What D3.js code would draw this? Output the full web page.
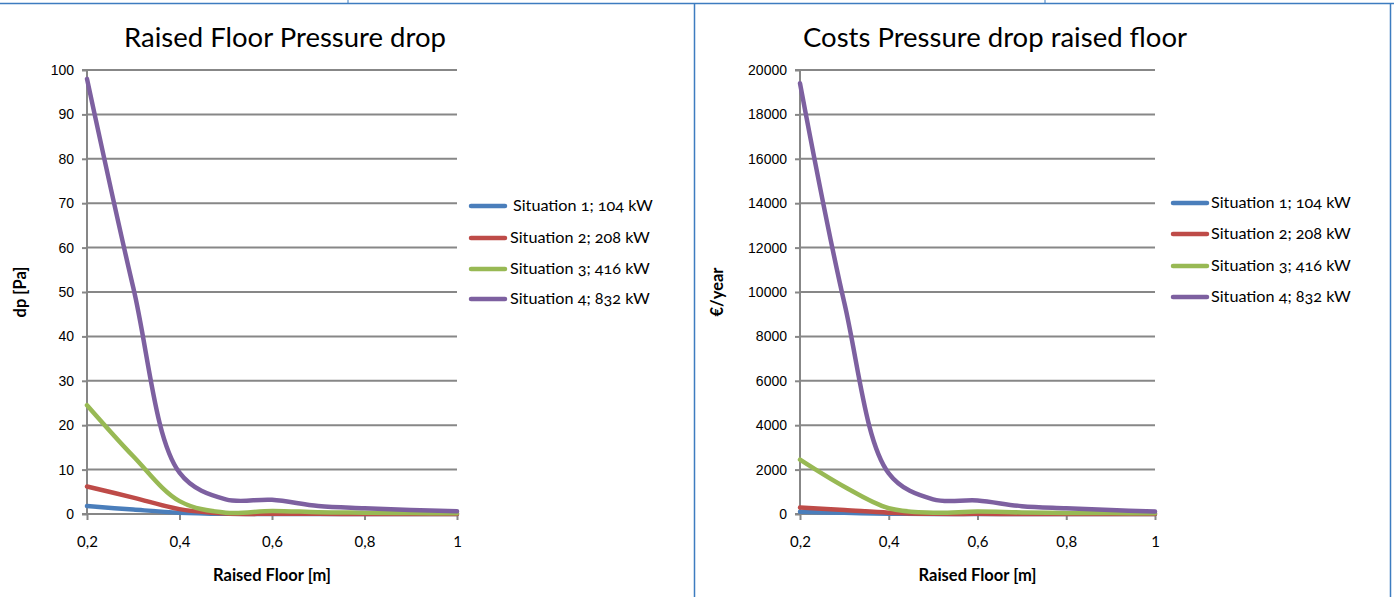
<!DOCTYPE html>
<html><head><meta charset="utf-8">
<script src="https://cdn.jsdelivr.net/npm/d3@7"></script>
<style>
html,body{margin:0;padding:0;background:#fff;}
svg{display:block;}
</style></head>
<body>
<svg id="c" width="1394" height="597"></svg>
<script>
// ---- data ----
const floorHeights = [0.2, 0.3, 0.4, 0.5, 0.6, 0.7, 0.8, 0.9, 1.0];
const seriesNames = ["Situation 1; 104 kW", "Situation 2; 208 kW", "Situation 3; 416 kW", "Situation 4; 832 kW"];
const seriesColors = ["#4a7ebb", "#be4b48", "#98b954", "#7d60a0"];

const dpSit1 = [1.8, 1.0, 0.3, 0.05, 0.02, 0.01, 0.01, 0.0, 0.0];
const dpSit2 = [6.2, 3.7, 1.1, 0.1, 0.05, 0.03, 0.02, 0.01, 0.01];
const dpSit3 = [24.5, 13.0, 2.9, 0.3, 0.7, 0.4, 0.3, 0.2, 0.15];
const dpSit4 = [98, 51, 9.3, 3.3, 3.2, 1.8, 1.3, 0.9, 0.6];

const costSit1 = [100, 55, 15, 3, 2, 1, 1, 0, 0];
const costSit2 = [290, 180, 60, 10, 6, 4, 3, 2, 2];
const costSit3 = [2450, 1230, 260, 60, 110, 70, 50, 40, 30];
const costSit4 = [19400, 9500, 1830, 660, 610, 350, 260, 180, 110];

const xTicks = [0.2, 0.4, 0.6, 0.8, 1.0];
const dpTicks = [0, 10, 20, 30, 40, 50, 60, 70, 80, 90, 100];
const costTicks = [0, 2000, 4000, 6000, 8000, 10000, 12000, 14000, 16000, 18000, 20000];

const charts = [
  {title: "Raised Floor Pressure drop", yLabel: "dp [Pa]", xLabel: "Raised Floor [m]",
   series: [dpSit1, dpSit2, dpSit3, dpSit4], yMax: 100, yTicks: dpTicks,
   left: 87, right: 457, titleX: 285, yLabelX: 26, legX: 471, legY: [206, 238, 269, 299], legTextDx: [42, 39, 39, 39]},
  {title: "Costs Pressure drop raised floor", yLabel: "€/year", xLabel: "Raised Floor [m]",
   series: [costSit1, costSit2, costSit3, costSit4], yMax: 20000, yTicks: costTicks,
   left: 800, right: 1155, titleX: 995, yLabelX: 723, legX: 1173, legY: [203, 234, 266, 297], legTextDx: [38, 38, 38, 38]}
];

const svg = d3.select("#c");
svg.append("rect").attr("width",1394).attr("height",597).attr("fill","#fff");

// frame lines
const frameColor = "#3d7cc0";
svg.append("line").attr("x1",0).attr("x2",1394).attr("y1",3.5).attr("y2",3.5).attr("stroke",frameColor).attr("stroke-width",1.5);
[694.5, 1390.5].forEach(x=>svg.append("line").attr("x1",x).attr("x2",x).attr("y1",3).attr("y2",597).attr("stroke",frameColor).attr("stroke-width",1.5));
[348, 1045].forEach(x=>svg.append("line").attr("x1",x).attr("x2",x).attr("y1",0).attr("y2",3).attr("stroke",frameColor).attr("stroke-width",1));

const gridColor = "#878787";
const fmtX = d => d3.format(".1f")(d).replace(".", ",").replace(",0","") ;

charts.forEach(ch => {
  const top = 70, bottom = 514;
  const x = d3.scaleLinear().domain([0.2, 1]).range([ch.left, ch.right]);
  const y = d3.scaleLinear().domain([0, ch.yMax]).range([bottom, top]);
  const g = svg.append("g");

  // gridlines
  g.selectAll(".grid").data(ch.yTicks.filter(d=>d>0)).join("line")
    .attr("x1", ch.left).attr("x2", ch.right)
    .attr("y1", d=>y(d)).attr("y2", d=>y(d))
    .attr("stroke", gridColor).attr("stroke-width", 2);

  // y axis
  const ya = d3.axisLeft(y).tickValues(ch.yTicks).tickSize(5).tickPadding(8).tickFormat(d=>d);
  const yg = g.append("g").attr("transform",`translate(${ch.left},0)`).call(ya);
  yg.select(".domain").attr("stroke", gridColor).attr("stroke-width", 2).attr("d", `M-5,${top}H0V${bottom}H-5`);
  yg.selectAll(".tick line").attr("stroke", gridColor).attr("stroke-width", 2);
  yg.selectAll(".tick text").attr("font-family","Liberation Sans, Arial, sans-serif").attr("font-size",14).attr("fill","#000");

  // x axis
  const xa = d3.axisBottom(x).tickValues(xTicks).tickSize(6).tickPadding(16).tickFormat(fmtX);
  const xg = g.append("g").attr("transform",`translate(0,${bottom})`).call(xa);
  xg.select(".domain").attr("stroke", gridColor).attr("stroke-width", 2).attr("d", `M${ch.left},0H${ch.right}`);
  xg.selectAll(".tick line").attr("stroke", gridColor).attr("stroke-width", 2);
  xg.selectAll(".tick text").attr("font-family","Lato, sans-serif").attr("font-size",15).attr("fill","#000");

  // lines
  const line = d3.line().x((d,i)=>x(floorHeights[i])).y(d=>y(d)).curve(d3.curveCatmullRom.alpha(0.5));
  ch.series.forEach((s,i)=>{
    g.append("path").datum(s).attr("d", line).attr("fill","none")
      .attr("stroke", seriesColors[i]).attr("stroke-width", 4.5).attr("stroke-linejoin","round").attr("stroke-linecap","round");
  });

  // title
  g.append("text").attr("x", ch.titleX).attr("y", 47).attr("text-anchor","middle")
    .attr("font-family","Lato, sans-serif").attr("font-size",27.5).attr("fill","#000").text(ch.title);

  // axis titles
  g.append("text").attr("x", (ch.left+ch.right)/2).attr("y", 581).attr("text-anchor","middle")
    .attr("font-family","Lato, sans-serif").attr("font-weight","bold").attr("font-size",16.5).attr("fill","#000").text(ch.xLabel);
  g.append("text").attr("transform",`translate(${ch.yLabelX},292) rotate(-90)`).attr("text-anchor","middle")
    .attr("font-family","Lato, sans-serif").attr("font-weight","bold").attr("font-size",16.5).attr("fill","#000").text(ch.yLabel);

  // legend
  seriesNames.forEach((n,i)=>{
    const ly = ch.legY[i];
    g.append("line").attr("x1", ch.legX).attr("x2", ch.legX+34).attr("y1", ly).attr("y2", ly)
      .attr("stroke", seriesColors[i]).attr("stroke-width", 4.5).attr("stroke-linecap","round");
    g.append("text").attr("x", ch.legX+ch.legTextDx[i]).attr("y", ly+5)
      .attr("font-family","Lato, sans-serif").attr("font-size",16.2).attr("fill","#000")
      .style("font-variant-numeric","oldstyle-nums").text(n);
  });
});
</script>
</body></html>
